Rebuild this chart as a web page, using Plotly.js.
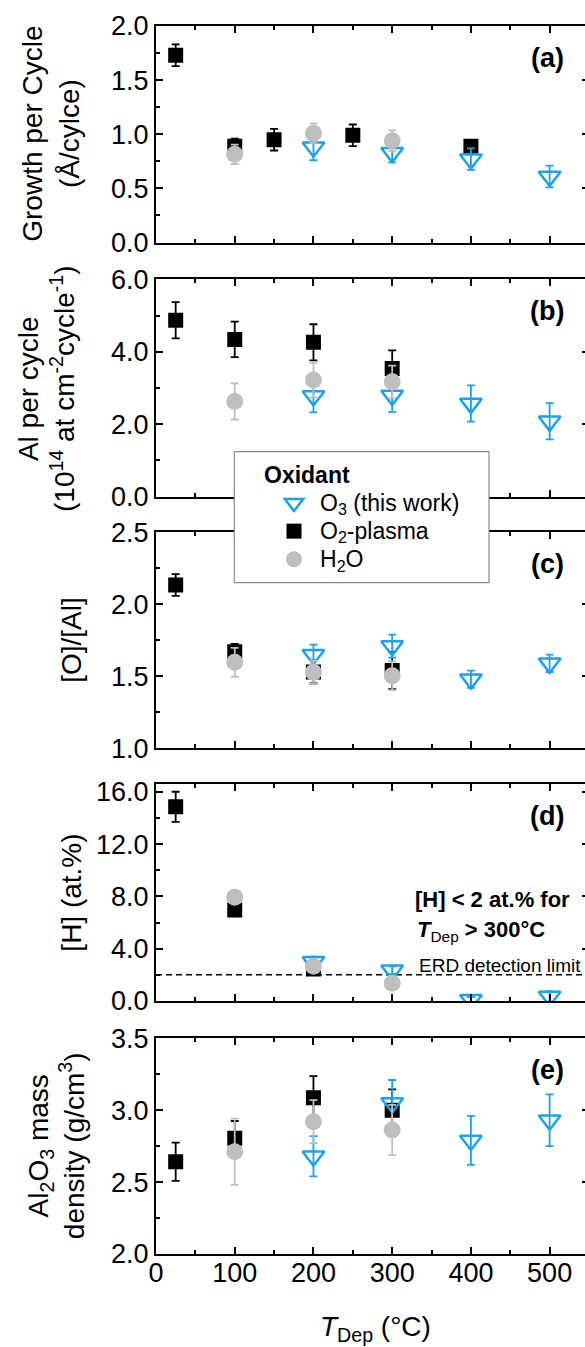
<!DOCTYPE html>
<html><head><meta charset="utf-8">
<script src="https://cdn.plot.ly/plotly-3.0.1.min.js"></script>
<style>html,body{margin:0;padding:0;overflow:hidden;background:#fff}#chart{width:590px;height:1347px}</style>
</head><body><div id="chart"></div>
<script>
// ---------------- data ----------------
const tempO3 = [200, 300, 400, 500];
const tempPlasma = [25, 100, 200, 300];
const tempPlasmaGpc = [25, 100, 150, 250, 400];
const tempPlasmaH = [25, 100, 200];
const tempH2O = [100, 200, 300];

// (a) growth per cycle (Å/cycle)
const gpcO3 = [0.88, 0.83, 0.77, 0.61];
const gpcO3Err = [0.12, 0.09, 0.10, 0.10];
const gpcPlasma = [1.73, 0.89, 0.95, 0.99, 0.89];
const gpcPlasmaErr = [0.10, 0.07, 0.10, 0.10, 0.03];
const gpcH2O = [0.815, 1.01, 0.94];
const gpcH2OErr = [0.09, 0.09, 0.095];

// (b) Al per cycle (1e14 at cm^-2 cycle^-1)
const alO3 = [2.78, 2.79, 2.57, 2.08];
const alO3Err = [0.45, 0.45, 0.5, 0.5];
const alPlasma = [4.87, 4.34, 4.26, 3.54];
const alPlasmaErr = [0.5, 0.49, 0.5, 0.5];
const alH2O = [2.63, 3.22, 3.17];
const alH2OErr = [0.5, 0.48, 0.45];

// (c) [O]/[Al]
const oalO3 = [1.65, 1.71, 1.48, 1.59];
const oalO3Err = [0.07, 0.08, 0.06, 0.06];
const oalPlasma = [2.134, 1.67, 1.53, 1.54];
const oalPlasmaErr = [0.076, 0.055, 0.08, 0.13];
const oalH2O = [1.597, 1.528, 1.504];
const oalH2OErr = [0.1, 0.08, 0.1];

// (d) [H] (at.%)
const hO3 = [3.0, 2.35, 0.1, 0.35];
const hO3Err = [0.4, 0.3, 0.2, 0.4];
const hPlasma = [14.85, 6.96, 2.45];
const hPlasmaErr = [1.15, 0.4, 0.4];
const hH2O = [7.93, 2.65, 1.35];
const hH2OErr = [0, 0, 0];
const erdLimit = 2.0;

// (e) mass density (g/cm3)
const rhoO3 = [2.68, 3.05, 2.79, 2.93];
const rhoO3Err = [0.14, 0.16, 0.17, 0.18];
const rhoPlasma = [2.642, 2.805, 3.087, 3.0];
const rhoPlasmaErr = [0.133, 0.12, 0.15, 0.145];
const rhoH2O = [2.711, 2.92, 2.862];
const rhoH2OErr = [0.23, 0.15, 0.175];

const seriesNames = ['O<sub>3</sub> (this work)', 'O<sub>2</sub>-plasma', 'H<sub>2</sub>O'];
const panelLabels = ['(a)', '(b)', '(c)', '(d)', '(e)'];
const yTitles = [
  'Growth per Cycle<br>(Å/cylce)',
  'Al per cycle<br>(10<sup>14</sup> at cm<sup>-2</sup>cycle<sup>-1</sup>)',
  '[O]/[Al]',
  '[H] (at.%)',
  'Al<sub>2</sub>O<sub>3</sub> mass<br>density (g/cm<sup>3</sup>)'
];
const yRanges = [[0, 2], [0, 6], [1, 2.5], [0, 16.57], [2, 3.5]];
const yDticks = [0.5, 2, 0.5, 4, 0.5];
const xTitle = '<i>T</i><sub>Dep</sub> (°C)';

// ---------------- styling ----------------
const FONT = 'Liberation Sans, Arial, sans-serif';
const BLUE = '#1ba1ef', GRAY = '#bfbfbf', BLACK = '#000000';
const styles = [
  {symbol: 'triangle-down-open', size: 19, color: BLUE, line: {color: BLUE, width: 2.5}, ecolor: BLUE, rank: 1},
  {symbol: 'square', size: 15, color: BLACK, line: {color: BLACK, width: 0}, ecolor: BLACK, rank: 2},
  {symbol: 'circle', size: 17, color: GRAY, line: {color: GRAY, width: 0}, ecolor: GRAY, rank: 3}
];

const panels = [
  {o3: [tempO3, gpcO3, gpcO3Err], pl: [tempPlasmaGpc, gpcPlasma, gpcPlasmaErr], h2o: [tempH2O, gpcH2O, gpcH2OErr]},
  {o3: [tempO3, alO3, alO3Err], pl: [tempPlasma, alPlasma, alPlasmaErr], h2o: [tempH2O, alH2O, alH2OErr]},
  {o3: [tempO3, oalO3, oalO3Err], pl: [tempPlasma, oalPlasma, oalPlasmaErr], h2o: [tempH2O, oalH2O, oalH2OErr]},
  {o3: [tempO3, hO3, hO3Err], pl: [tempPlasmaH, hPlasma, hPlasmaErr], h2o: [tempH2O, hH2O, hH2OErr]},
  {o3: [tempO3, rhoO3, rhoO3Err], pl: [tempPlasma, rhoPlasma, rhoPlasmaErr], h2o: [tempH2O, rhoH2O, rhoH2OErr]}
];

// panel pixel geometry (top, bottom) in a 1347 px tall figure
const H = 1347, W = 590, mT = 26, mB = 93, mL = 156, mR = 1;
const plotH = H - mT - mB, plotW = W - mL - mR;
const panelPx = [[26, 242.5], [279.3, 496.7], [532.3, 748.3], [784.3, 1001], [1038.3, 1254]];
const dom = p => [(H - mB - p[1]) / plotH, (H - mB - p[0]) / plotH];
const px2x = px => (px - mL) / plotW;
const px2y = py => (H - mB - py) / plotH;

const traces = [];
panels.forEach((p, i) => {
  const xa = i === 0 ? 'x' : 'x' + (i + 1);
  const ya = i === 0 ? 'y' : 'y' + (i + 1);
  const order = [['pl', 1], ['o3', 0], ['h2o', 2]];
  order.forEach(([key, si]) => {
    const s = styles[si];
    const [xs, ys, es] = p[key];
    traces.push({
      type: 'scatter', mode: 'markers', x: xs, y: ys,
      xaxis: xa, yaxis: ya,
      name: '<span style="font-size:23px">' + seriesNames[si] + '</span>',
      legendgroup: key, showlegend: i === 0, legendrank: s.rank,
      marker: {symbol: s.symbol, size: s.size, color: s.color, line: s.line},
      error_y: {type: 'data', array: es, visible: true, color: s.ecolor, thickness: 1.8, width: 4}
    });
  });
});

const layout = {
  width: W, height: H,
  margin: {l: mL, r: mR, t: mT, b: mB},
  paper_bgcolor: '#fff', plot_bgcolor: '#fff',
  font: {family: FONT, color: '#000'},
  showlegend: true,
  legend: {
    x: px2x(268), y: px2y(484), xanchor: 'left', yanchor: 'top',
    bgcolor: 'rgba(0,0,0,0)', borderwidth: 0,
    font: {size: 19.3, family: FONT, color: '#000'},
    traceorder: 'normal', itemwidth: 42, tracegroupgap: 0
  },
  annotations: [], shapes: []
};

const axLine = {showline: true, linecolor: '#000', linewidth: 2, mirror: 'ticks',
  ticks: 'inside', ticklen: 7, tickwidth: 2, tickcolor: '#000',
  showgrid: false, zeroline: false, tickfont: {size: 27, family: FONT, color: '#000'}};

panels.forEach((p, i) => {
  const n = i === 0 ? '' : String(i + 1);
  layout['xaxis' + n] = Object.assign({}, axLine, {
    range: [0, 550], tick0: 0, dtick: 100, domain: [0, 1],
    anchor: 'y' + n, showticklabels: i === 4, ticklabelstandoff: -6,
    minor: {ticks: 'inside', ticklen: 4, tickwidth: 2, tickcolor: '#000', dtick: 50, showgrid: false}
  });
  layout['yaxis' + n] = Object.assign({}, axLine, {
    range: yRanges[i], tick0: 0, dtick: yDticks[i], tickformat: '.1f',
    domain: dom(panelPx[i]), anchor: 'x' + n,
    minor: {ticks: 'inside', ticklen: 4, tickwidth: 2, tickcolor: '#000', dtick: yDticks[i] / 2, showgrid: false}
  });
  layout.annotations.push({
    text: '<b>' + panelLabels[i] + '</b>', xref: 'paper', x: px2x(547),
    yref: 'y' + n + ' domain', y: 1 - 32 / 216.5, xanchor: 'center', yanchor: 'middle',
    showarrow: false, font: {size: 27, family: FONT, color: '#000'}
  });
});

// y-axis titles as rotated annotations
const yTitleX = [50.5, 46, 71.5, 72, 56];
yTitles.forEach((t, i) => {
  const n = i === 0 ? '' : String(i + 1);
  layout.annotations.push({
    text: t, textangle: -90, xref: 'paper', x: px2x(yTitleX[i]),
    yref: 'y' + n + ' domain', y: 0.5, xanchor: 'center', yanchor: 'middle',
    showarrow: false, font: {size: 28, family: FONT, color: '#000'}
  });
});

// x-axis title
layout.annotations.push({
  text: xTitle, xref: 'paper', x: px2x(375), yref: 'paper', y: px2y(1328),
  xanchor: 'center', yanchor: 'middle', showarrow: false,
  font: {size: 28, family: FONT, color: '#000'}
});

// panel (d) notes
layout.annotations.push({
  text: '<b>[H] &lt; 2 at.% for</b>', xref: 'paper', x: px2x(413), yref: 'paper', y: px2y(899),
  xanchor: 'left', yanchor: 'middle', showarrow: false, font: {size: 22, family: FONT, color: '#000'}
});
layout.annotations.push({
  text: '<b><i>T</i></b><sub>Dep</sub><b> &gt; 300°C</b>', xref: 'paper', x: px2x(415), yref: 'paper', y: px2y(931),
  xanchor: 'left', yanchor: 'middle', showarrow: false, font: {size: 22, family: FONT, color: '#000'}
});
layout.annotations.push({
  text: 'ERD detection limit', xref: 'paper', x: px2x(417), yref: 'paper', y: px2y(965),
  xanchor: 'left', yanchor: 'middle', showarrow: false, font: {size: 19, family: FONT, color: '#000'}
});
layout.shapes.push({
  type: 'line', xref: 'x4', yref: 'y4', x0: 0, x1: 550, y0: erdLimit, y1: erdLimit,
  line: {color: '#000', width: 1.5, dash: '6px,4px'}, layer: 'below'
});

// legend box + title
layout.shapes.push({
  type: 'rect', xref: 'paper', yref: 'paper',
  x0: px2x(234.3), x1: px2x(489), y0: px2y(582.7), y1: px2y(451.7),
  fillcolor: '#fff', line: {color: '#8c8c8c', width: 1.2}, layer: 'above'
});
layout.annotations.push({
  text: '<b>Oxidant</b>', xref: 'paper', x: px2x(262), yref: 'paper', y: px2y(475),
  xanchor: 'left', yanchor: 'middle', showarrow: false, font: {size: 23, family: FONT, color: '#000'}
});

Plotly.newPlot('chart', traces, layout, {staticPlot: true, displayModeBar: false});
</script></body></html>
